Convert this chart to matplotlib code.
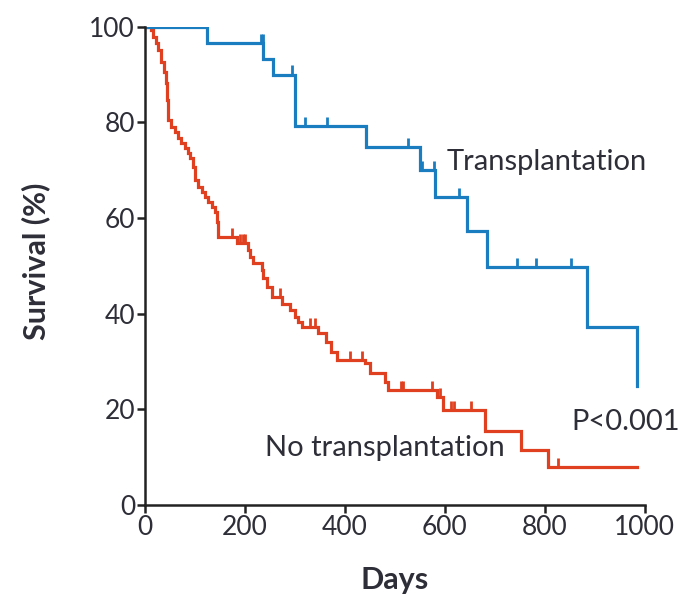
import matplotlib
matplotlib.use("Agg")
import matplotlib.pyplot as plt
import numpy as np

plt.rcParams['font.family'] = ['Lato', 'DejaVu Sans']

# Kaplan-Meier step data: event day and survival (%) just after the event
tx_days = [0, 124, 236, 256, 300, 442, 550, 580, 644, 684, 884, 984]
tx_surv = [100, 96.6, 93.3, 90.0, 79.3, 74.8, 70.1, 64.3, 57.3, 49.8, 37.3, 24.9]
tx_cens_days = [232, 236, 294, 320, 364, 526, 554, 578, 628, 744, 782, 852]
tx_cens_surv = [96.6, 96.6, 90.0, 79.3, 79.3, 74.8, 70.1, 70.1, 64.3, 49.8, 49.8, 49.8]

notx_days = [0, 12, 16, 22, 26, 32, 38, 42, 44, 46, 52, 60, 66, 72, 80, 86, 90,
             96, 100, 106, 114, 120, 126, 134, 140, 144, 146, 184, 206, 210,
             216, 234, 236, 244, 254, 274, 290, 300, 306, 314, 346, 362, 372,
             384, 440, 450, 480, 486, 584, 596, 680, 752, 806, 985]
notx_surv = [100, 99.4, 97.9, 96.7, 95.2, 92.7, 90.6, 88.3, 84.7, 80.5, 79.1,
             78.0, 76.8, 75.7, 74.7, 73.6, 72.6, 70.7, 68.0, 66.5, 65.5, 64.4,
             63.4, 62.3, 61.3, 59.2, 56.1, 54.8, 53.3, 51.9, 50.6, 49.2, 47.5,
             45.6, 43.5, 42.0, 40.8, 39.3, 38.3, 37.2, 36.0, 34.1, 32.0, 30.3,
             29.7, 27.6, 25.7, 24.1, 22.6, 19.9, 15.5, 11.5, 8.0, 8.0]
notx_cens_days = [174, 190, 196, 200, 270, 330, 340, 410, 434, 512, 516, 574,
                  590, 612, 618, 652, 826]
notx_cens_surv = [56.1, 54.8, 54.8, 54.8, 43.5, 37.2, 37.2, 30.3, 30.3, 24.1,
                  24.1, 24.1, 22.6, 19.9, 19.9, 19.9, 8.0]

x_ticks = [0, 200, 400, 600, 800, 1000]
y_ticks = [0, 20, 40, 60, 80, 100]

blue = '#1a7dc0'
red = '#e0401f'
ink = '#2e2e38'

fig = plt.figure(figsize=(6.8, 5.94), dpi=100)
ax = fig.add_axes([0.213, 0.150, 0.735, 0.805])

ax.step(notx_days, notx_surv, where='post', color=red, lw=2.3, solid_joinstyle='miter')
ax.vlines(notx_cens_days, notx_cens_surv, np.array(notx_cens_surv) + 1.9,
          color=red, lw=2.0)
ax.step(tx_days, tx_surv, where='post', color=blue, lw=2.3, solid_joinstyle='miter')
ax.vlines(tx_cens_days, tx_cens_surv, np.array(tx_cens_surv) + 1.9,
          color=blue, lw=2.0)

ax.set_xlim(0, 1000)
ax.set_ylim(0, 100)
ax.set_xticks(x_ticks)
ax.set_yticks(y_ticks)
for s in ['top', 'right']:
    ax.spines[s].set_visible(False)
for s in ['left', 'bottom']:
    ax.spines[s].set_linewidth(1.8)
    ax.spines[s].set_color('#222222')
ax.tick_params(direction='out', length=6, width=1.8, color='#222222',
               labelsize=19, labelcolor=ink, pad=1)
for lab in ax.get_xticklabels() + ax.get_yticklabels():
    lab.set_clip_on(False)

ax.set_ylabel('Survival (%)', fontsize=22, fontweight='bold', color=ink)
ax.yaxis.set_label_coords(-0.19, 0.51)
ax.set_xlabel('Days', fontsize=22, fontweight='bold', color=ink)
ax.xaxis.set_label_coords(0.5, -0.128)

ax.text(604, 71.8, 'Transplantation', fontsize=21, color=ink, va='center', ha='left')
ax.text(240, 11.9, 'No transplantation', fontsize=21, color=ink, va='center', ha='left')
ax.text(854, 17.4, 'P<0.001', fontsize=21, color=ink, va='center', ha='left',
        clip_on=False)

fig.savefig('out.png', dpi=100)
